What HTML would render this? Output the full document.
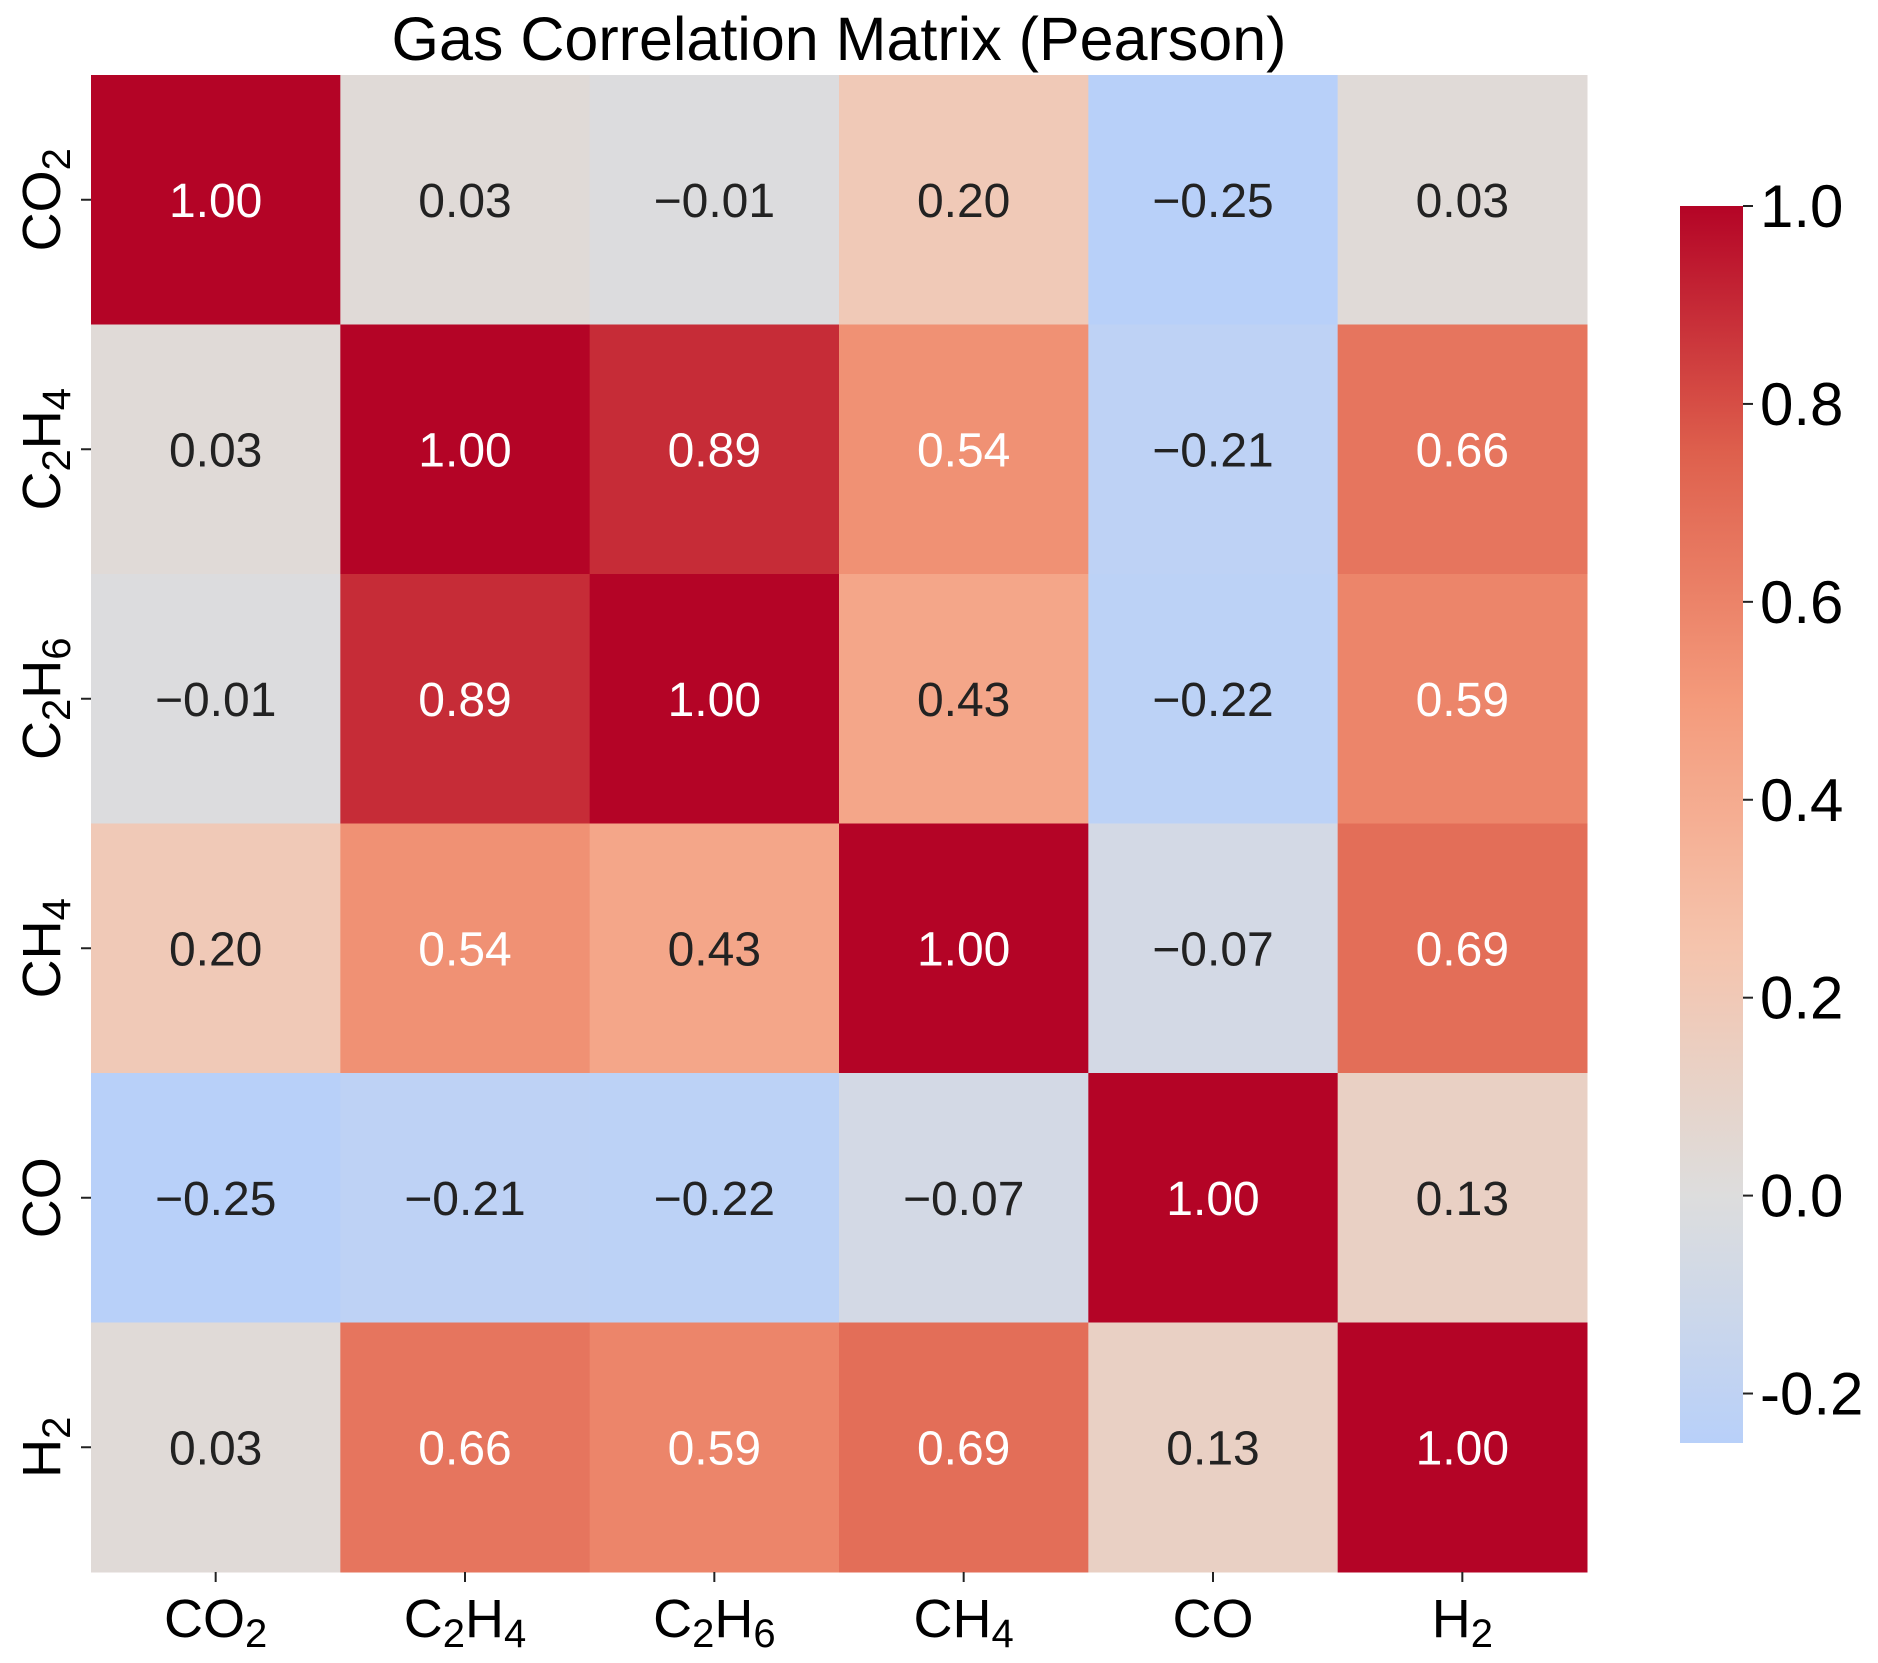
<!DOCTYPE html>
<html><head><meta charset="utf-8"><style>
body{margin:0;background:#fff;}
svg text{font-family:"Liberation Sans",Arial,sans-serif;}
</style></head><body>
<svg id="chart" width="1878" height="1658" xmlns="http://www.w3.org/2000/svg">
<text x="839" y="60" font-size="61" text-anchor="middle">Gas Correlation Matrix (Pearson)</text>
<g id="cells"></g><g id="xt"></g><g id="yt"></g>
<defs><linearGradient id="cbg" x1="0" y1="1" x2="0" y2="0"></linearGradient></defs>
<rect x="1680" y="206" width="63" height="1237" fill="url(#cbg)"/>
<g id="cbt"></g>
</svg>
<script>
const labels=["CO₂","C₂H₄","C₂H₆","CH₄","CO","H₂"];
const labelParts=[["CO","2",""],["C","2","H","4"],["C","2","H","6"],["CH","4"],["CO"],["H","2"]];
const matrix=[
[1.00,0.03,-0.01,0.20,-0.25,0.03],
[0.03,1.00,0.89,0.54,-0.21,0.66],
[-0.01,0.89,1.00,0.43,-0.22,0.59],
[0.20,0.54,0.43,1.00,-0.07,0.69],
[-0.25,-0.21,-0.22,-0.07,1.00,0.13],
[0.03,0.66,0.59,0.69,0.13,1.00]];
const cbTicks=[-0.2,0.0,0.2,0.4,0.6,0.8,1.0];
const vmin=-0.25,vmax=1.0;
const NS="http://www.w3.org/2000/svg";
const L=91,T=75,W=1496,H=1497,n=6,cw=W/n,ch=H/n;
const stops=[[59,76,192],[98,130,234],[141,176,254],[184,208,249],[221,221,221],[245,196,173],[244,154,123],[222,96,77],[180,4,38]];
function cmap(v){let t=Math.max(0,Math.min(1,(v+1)/2))*8;let i=Math.min(7,Math.floor(t)),f=t-i;
const a=stops[i],b=stops[i+1];return `rgb(${a.map((x,k)=>Math.round(x+(b[k]-x)*f)).join(',')})`;}
function el(tag,attrs,parent){const e=document.createElementNS(NS,tag);for(const k in attrs)e.setAttribute(k,attrs[k]);parent.appendChild(e);return e;}
function fmt(v){return (v<0?"−":"")+Math.abs(v).toFixed(2);}
function setLabel(t,parts){parts.forEach((p,i)=>{if(!p)return;const s=document.createElementNS(NS,'tspan');s.textContent=p;if(i%2==1){s.setAttribute('font-size','40');s.setAttribute('dy','10');}else if(i>0){s.setAttribute('dy','-10');}t.appendChild(s);});}
const cells=document.getElementById('cells');
matrix.forEach((row,r)=>row.forEach((v,c)=>{
 const rc=el('rect',{x:L+c*cw,y:T+r*ch,width:cw+0.5,height:ch+0.5,fill:cmap(v)},cells);
 
 
 const tx=el('text',{x:L+(c+.5)*cw,y:T+(r+.5)*ch+17,'font-size':48,'text-anchor':'middle',fill:v>0.5?'#fff':'#222'},cells);
 tx.textContent=fmt(v);
 
 
}));
const xt=document.getElementById('xt'),yt=document.getElementById('yt');
labelParts.forEach((p,i)=>{
 const x=L+(i+.5)*cw;
 el('line',{x1:x,x2:x,y1:T+H,y2:T+H+10,stroke:'#222','stroke-width':2},xt);
 const t=el('text',{x:x,y:T+H+65,'font-size':54,'text-anchor':'middle'},xt);
 setLabel(t,p);
 
 
 const y=T+(i+.5)*ch;
 el('line',{x1:L-10,x2:L,y1:y,y2:y,stroke:'#222','stroke-width':2},yt);
 const t2=el('text',{x:0,y:0,'font-size':54,'text-anchor':'middle',transform:`translate(60,${y}) rotate(-90)`},yt);
 setLabel(t2,p);
 
 
});
const g=document.getElementById('cbg');
for(let k=0;k<=20;k++){const v=vmin+(vmax-vmin)*k/20;el('stop',{offset:k/20,'stop-color':cmap(v)},g);}
const cbt=document.getElementById('cbt');
const cbY=v=>1443-(v-vmin)/(vmax-vmin)*1237;
cbTicks.forEach(v=>{const y=cbY(v);
 el('line',{x1:1743,x2:1753,y1:y,y2:y,stroke:'#222','stroke-width':2},cbt);
 const t=el('text',{x:1760,y:y+21,'font-size':60},cbt);
 t.textContent=(v<0?"-":"")+Math.abs(v).toFixed(1);
 
 
});
</script>
</body></html>
